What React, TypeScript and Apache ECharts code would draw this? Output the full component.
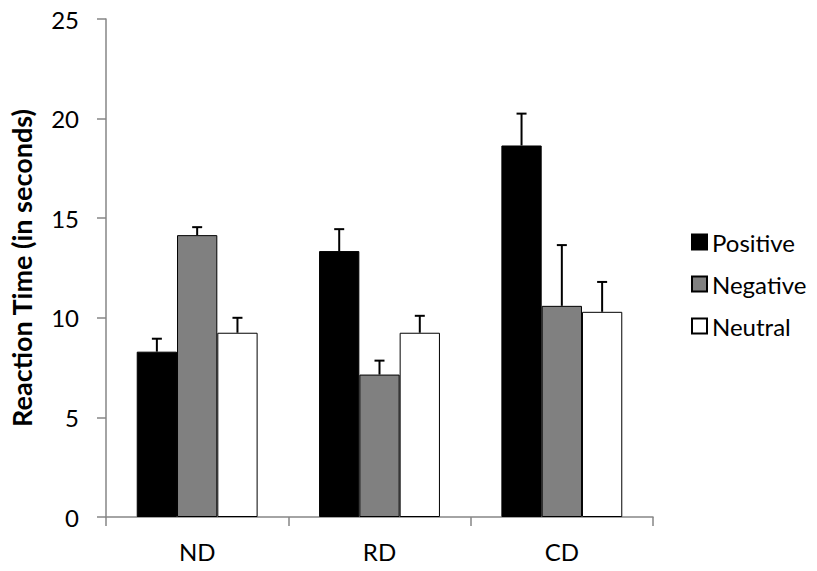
import React, { useEffect, useRef } from "react";
import * as echarts from "echarts";

const categories = ["ND", "RD", "CD"];
const seriesNames = ["Positive", "Negative", "Neutral"];
const positiveValues = [8.3, 13.35, 18.65];
const negativeValues = [14.15, 7.15, 10.6];
const neutralValues = [9.25, 9.25, 10.3];
const positiveErrors = [0.65, 1.1, 1.6];
const negativeErrors = [0.4, 0.7, 3.05];
const neutralErrors = [0.75, 0.85, 1.5];
const yTicks = [0, 5, 10, 15, 20, 25];

const CATEGORY_GAP = 0.337;
const FONT = "Lato, 'Open Sans', sans-serif";

export default function App() {
  const ref = useRef<HTMLDivElement>(null);

  useEffect(() => {
    if (!ref.current) return;
    const chart = echarts.init(ref.current, undefined, { renderer: "svg" });

    const valueSets = [positiveValues, negativeValues, neutralValues];
    const errorSets = [positiveErrors, negativeErrors, neutralErrors];
    const fills = ["#000000", "#808080", "#ffffff"];

    const errorData: number[][] = [];
    valueSets.forEach((vals, si) => {
      vals.forEach((v, ci) => {
        errorData.push([ci, v, errorSets[si][ci], si]);
      });
    });

    const barSeries = seriesNames.map((name, si) => ({
      name,
      type: "bar",
      data: valueSets[si],
      barGap: "0%",
      barCategoryGap: CATEGORY_GAP * 100 + "%",
      itemStyle: { color: fills[si], borderColor: "#000000", borderWidth: 1 },
      z: 2,
    }));

    const errorSeries = {
      name: "errors",
      type: "custom",
      z: 3,
      data: errorData,
      renderItem: (params: any, api: any) => {
        const ci = api.value(0);
        const v = api.value(1);
        const e = api.value(2);
        const si = api.value(3);
        const band = api.size([1, 0])[0];
        const total = band * (1 - CATEGORY_GAP);
        const bw = total / 3;
        const base = api.coord([ci, v]);
        const top = api.coord([ci, v + e]);
        const cx = base[0] - total / 2 + bw * (si + 0.5);
        const style = { stroke: "#000000", lineWidth: 2 };
        return {
          type: "group",
          children: [
            { type: "line", shape: { x1: cx, y1: base[1], x2: cx, y2: top[1] }, style },
            { type: "line", shape: { x1: cx - 5, y1: top[1], x2: cx + 5, y2: top[1] }, style },
          ],
        };
      },
    };

    chart.setOption({
      animation: false,
      backgroundColor: "#ffffff",
      grid: { left: 96, right: 164, top: 19, bottom: 54, containLabel: false },
      legend: {
        data: seriesNames,
        orient: "vertical",
        left: 686,
        top: 225,
        itemWidth: 15,
        itemHeight: 15,
        itemGap: 18,
        icon: "rect",
        textStyle: { fontFamily: FONT, fontSize: 24, color: "#000000" },
      },
      xAxis: {
        type: "category",
        data: categories,
        axisLine: { lineStyle: { color: "#868686", width: 1.5 } },
        axisTick: { show: true, length: 9, alignWithLabel: false, lineStyle: { color: "#868686", width: 1.5 } },
        axisLabel: { fontFamily: FONT, fontSize: 24, color: "#000000", margin: 22 },
        splitLine: { show: false },
      },
      yAxis: {
        type: "value",
        min: yTicks[0],
        max: yTicks[yTicks.length - 1],
        interval: 5,
        name: "Reaction Time (in seconds)",
        nameLocation: "middle",
        nameRotate: 90,
        nameGap: 71,
        nameTextStyle: { fontFamily: FONT, fontSize: 27, fontWeight: "bold", color: "#000000" },
        axisLine: { show: true, lineStyle: { color: "#868686", width: 1.5 } },
        axisTick: { show: true, length: 9, lineStyle: { color: "#868686", width: 1.5 } },
        axisLabel: { fontFamily: FONT, fontSize: 24, color: "#000000", margin: 27 },
        splitLine: { show: false },
      },
      series: [...barSeries, errorSeries],
    });

    return () => chart.dispose();
  }, []);

  return (
    <div
      ref={ref}
      style={{ position: "fixed", left: 0, top: 0, width: 817, height: 571, background: "#fff" }}
    />
  );
}
